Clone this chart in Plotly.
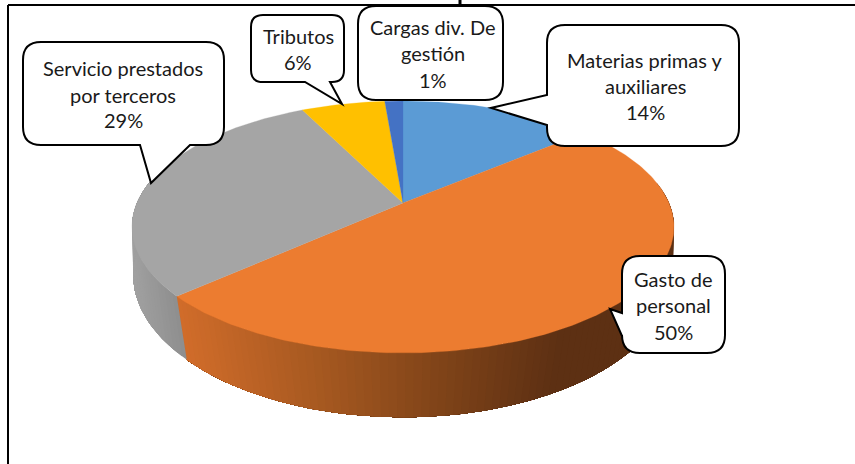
import math
import plotly.graph_objects as go

# ---- data ----
categories = ["Materias primas y auxiliares", "Gasto de personal", "Servicio prestados por terceros", "Tributos", "Cargas div. De gestión"]
values = [13.8, 49.5, 29.4, 6.0, 1.3]
percent_labels = ["14%", "50%", "29%", "6%", "1%"]
top_colors = ["#5B9BD5", "#EC7C30", "#A5A5A5", "#FFC000", "#4472C4"]
label_lines = [
    ["Materias primas y", "auxiliares", "14%"],
    ["Gasto de", "personal", "50%"],
    ["Servicio prestados", "por terceros", "29%"],
    ["Tributos", "6%"],
    ["Cargas div. De", "gestión", "1%"],
]
# line centres of the callout text (px)
label_x = [645, 673, 123, 298, 433]
label_y = [[60, 86, 112], [279, 305, 332], [68, 95, 120], [36, 62], [27, 53, 80]]

# ---- pie projection ----
CX = 403
def top_pt(t):
    u, v = math.sin(t), math.cos(t)
    d = 1 + 0.1905 * v
    return CX + 266 * u / d, 203 - 121.4 * v / d

def bot_pt(t):
    u, v = math.sin(t), math.cos(t)
    d = 1 + 0.12 * v
    return CX + 268 * u / d, 257 - 141 * v / d

def lerp_stops(x, stops):
    if x <= stops[0][0]:
        return stops[0][1]
    for (x0, c0), (x1, c1) in zip(stops, stops[1:]):
        if x <= x1:
            f = (x - x0) / (x1 - x0)
            return tuple(c0[i] + (c1[i] - c0[i]) * f for i in range(3))
    return stops[-1][1]

orange_wall = [(180, (208, 108, 42)), (320, (165, 88, 32)), (450, (125, 66, 24)), (560, (93, 48, 19))]
grey_wall = [(133, (160, 160, 160)), (186, (138, 138, 138))]
wall_stops = {1: orange_wall, 2: grey_wall}

fig = go.Figure()

def add_poly(xs, ys, color, lw=0.0):
    fig.add_trace(go.Scatter(x=xs, y=ys, mode="lines", fill="toself", fillcolor=color,
                             line=dict(color=color, width=lw), hoverinfo="skip", showlegend=False))

total = sum(values)
edges = [0]
for val in values:
    edges.append(edges[-1] + val / total * 2 * math.pi)

# side wall: strips coloured by horizontal position; each strip runs to the
# end of its slice so the next one paints over it and no seam can show
for i in (1, 2):
    a, b = edges[i], edges[i + 1]
    a = max(a, math.radians(80))
    b = min(b, math.radians(280))
    n = max(4, int((b - a) / math.radians(1.5)))
    for k in range(n):
        t0 = a + (b - a) * k / n
        m = n - k
        steps = [t0 + (b - t0) * j / m for j in range(m + 1)]
        top = [top_pt(t) for t in steps]
        bot = [bot_pt(t) for t in reversed(steps)]
        xm = (top_pt(t0)[0] + top_pt(t0 + (b - a) / n)[0]) / 2
        c = lerp_stops(xm, wall_stops[i])
        col = "rgb(%d,%d,%d)" % tuple(round(z) for z in c)
        xs = [p[0] for p in top + bot] + [top[0][0]]
        ys = [p[1] for p in top + bot] + [top[0][1]]
        add_poly(xs, ys, col)

# top surface
for i, col in enumerate(top_colors):
    a, b = edges[i], edges[i + 1]
    n = max(3, int((b - a) / math.radians(1)))
    pts = [top_pt(a + (b - a) * k / n) for k in range(n + 1)]
    c = (CX, 203)
    xs = [c[0]] + [p[0] for p in pts] + [c[0]]
    ys = [c[1]] + [p[1] for p in pts] + [c[1]]
    add_poly(xs, ys, col, 0.3)

# ---- callouts ----
def callout(x0, y0, x1, y1, pointer, side, r=18):
    """rounded box; pointer = (start, tip, end) inserted on the given side"""
    p = [f"M{x0 + r},{y0}"]
    p.append(f"L{x1 - r},{y0} Q{x1},{y0} {x1},{y0 + r}")
    p.append(f"L{x1},{y1 - r} Q{x1},{y1} {x1 - r},{y1}")
    if side == "bottom" and pointer:
        s, t, e = pointer
        p.append(f"L{s[0]},{s[1]} L{t[0]},{t[1]} L{e[0]},{e[1]}")
    p.append(f"L{x0 + r},{y1} Q{x0},{y1} {x0},{y1 - r}")
    if side == "left" and pointer:
        s, t, e = pointer
        p.append(f"L{s[0]},{s[1]} L{t[0]},{t[1]} L{e[0]},{e[1]}")
    p.append(f"L{x0},{y0 + r} Q{x0},{y0} {x0 + r},{y0} Z")
    return dict(type="path", xref="x", yref="y", path=" ".join(p),
                fillcolor="white", line=dict(color="#000000", width=2), layer="above")

shapes = [
    # chart frame
    dict(type="line", xref="x", yref="y", x0=8, y0=5, x1=8, y1=464, line=dict(color="#000", width=2), layer="above"),
    dict(type="line", xref="x", yref="y", x0=8, y0=5, x1=855, y1=5, line=dict(color="#000", width=2), layer="above"),
    # clipped remnant of the cut-off title
    dict(type="line", xref="x", yref="y", x0=460, y0=0, x1=460, y1=4, line=dict(color="#000", width=3), layer="above"),
    callout(547, 25, 739, 146, ((547, 125), (491, 108), (547, 95)), "left"),
    callout(622, 256, 725, 353, ((622, 336), (610, 309), (622, 313)), "left"),
    callout(23, 42, 224, 145, ((190, 145), (151, 183), (140, 145)), "bottom"),
    callout(251, 15, 344, 82, ((330, 82), (342, 104), (305, 82)), "bottom", r=12),
    callout(358, 6, 503, 100, None, "none"),
]

annotations = []
for lines, lx, ly in zip(label_lines, label_x, label_y):
    for txt, yy in zip(lines, ly):
        annotations.append(dict(x=lx, y=yy, xref="x", yref="y", text=txt, showarrow=False,
                                xanchor="center", yanchor="middle",
                                font=dict(family="Lato, Carlito, Calibri, sans-serif", size=20, color="#1a1a1a")))

fig.update_layout(
    width=855, height=464, margin=dict(l=0, r=0, t=0, b=0),
    paper_bgcolor="white", plot_bgcolor="white", showlegend=False,
    xaxis=dict(range=[0, 855], visible=False, fixedrange=True),
    yaxis=dict(range=[464, 0], visible=False, fixedrange=True),
    shapes=shapes, annotations=annotations,
)
fig.write_html("out.html", config=dict(displayModeBar=False),
               post_script="document.body.style.margin='0';document.body.style.overflow='hidden';")
